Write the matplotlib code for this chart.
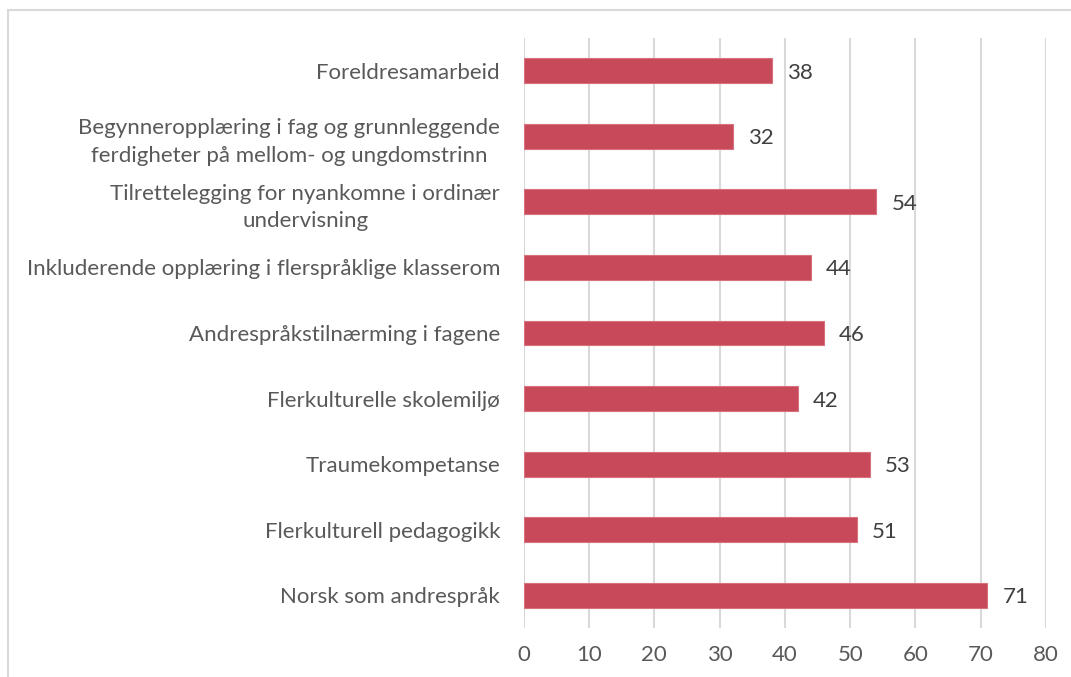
import matplotlib.pyplot as plt
from matplotlib.patches import Rectangle

# categories listed top to bottom
categories = [
    "Foreldresamarbeid",
    "Begynneropplæring i fag og grunnleggende\nferdigheter på mellom- og ungdomstrinn",
    "Tilrettelegging for nyankomne i ordinær\nundervisning",
    "Inkluderende opplæring i flerspråklige klasserom",
    "Andrespråkstilnærming i fagene",
    "Flerkulturelle skolemiljø",
    "Traumekompetanse",
    "Flerkulturell pedagogikk",
    "Norsk som andrespråk",
]
values = [38, 32, 54, 44, 46, 42, 53, 51, 71]
xticks = [0, 10, 20, 30, 40, 50, 60, 70, 80]

plt.rcParams['font.family'] = ['Lato', 'DejaVu Sans']

fig = plt.figure(figsize=(10.71, 6.77), dpi=100)
ax = fig.add_axes([0.489, 0.0724, 0.4877, 0.8715])

# light frame round the chart
fig.patches.append(Rectangle((8 / 1071, -0.1), 1.2, 1 - 10 / 677 + 0.1,
                             transform=fig.transFigure, fill=False,
                             edgecolor='#D9D9D9', linewidth=1.5))

ypos = list(range(len(categories)))
ax.barh(ypos, values, height=0.38, color='#C8495A', edgecolor='#D9707E', linewidth=0.8, zorder=3)

for y, v in zip(ypos, values):
    ax.text(v + 2.3, y + 0.03, str(v), va='center', ha='left', fontsize=16, color='#404040')

ax.set_yticks(ypos)
ax.set_yticklabels(categories, fontsize=16, color='#595959', multialignment='center',
                   linespacing=1.45)
ax.set_ylim(len(categories) - 0.5, -0.5)
ax.set_xlim(0, 80)
ax.set_xticks(xticks)
ax.set_xticklabels([str(t) for t in xticks], fontsize=16, color='#595959')
ax.tick_params(axis='y', length=0, pad=17)
ax.tick_params(axis='x', length=0, pad=12)
ax.grid(axis='x', color='#D9D9D9', linewidth=1.5, zorder=0)
for s in ax.spines.values():
    s.set_visible(False)

fig.savefig('out.png', dpi=100)
